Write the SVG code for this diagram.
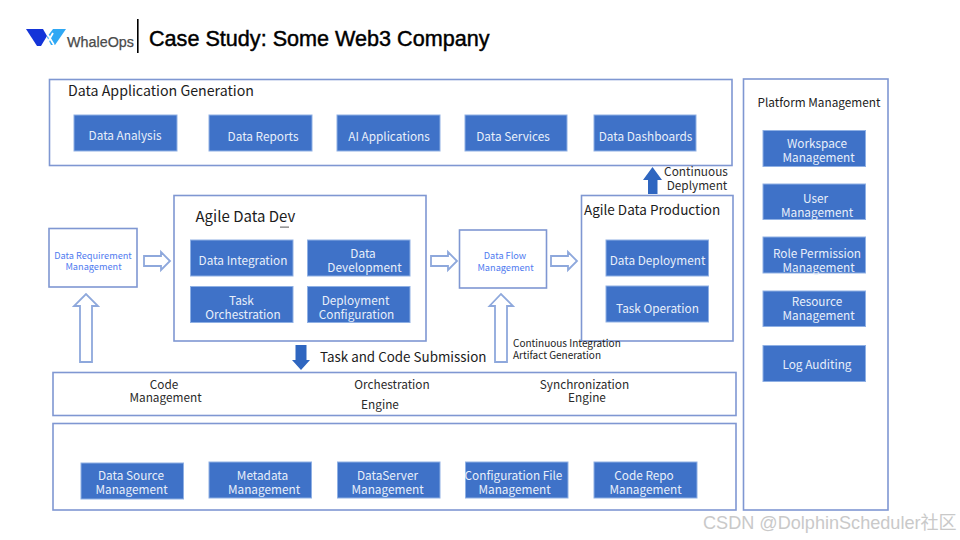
<svg xmlns="http://www.w3.org/2000/svg" width="960" height="540" viewBox="0 0 960 540">
<style>
text{font-family:"Noto Sans CJK SC","Noto Sans",sans-serif;font-size:11.8px;text-anchor:middle}
.panel{fill:#fff;stroke:#7f97d2;stroke-width:1.6}
.box{fill:#3f72c8;stroke:#8fb0e4;stroke-width:1}
.w{fill:#e8effa}
.d{fill:#2a2a2a}
.s{fill:#4f7bf0;font-size:9.2px}
.h{fill:#1c1c1c;text-anchor:start}
.hollow{fill:#fff;stroke:#8ea8dc;stroke-width:1.8;stroke-linejoin:miter}
.solid{fill:#2f66c0}
</style>
<rect width="960" height="540" fill="#fff"/>
<g id="header">
<polygon points="26,29 43,29 47,36 41,46 37,46" fill="#1434d8"/>
<polygon points="47,37 53,29 66,29 55,45 51,45" fill="#2fa8f4"/>
<path d="M48,35L54,45M53,33L46,45" stroke="#fff" stroke-width="1.8" fill="none"/>
<text x="67" y="47" textLength="67" lengthAdjust="spacingAndGlyphs" style="font-family:'Liberation Sans',sans-serif;font-size:15.5px;text-anchor:start;fill:#4a4a4a;stroke:#4a4a4a;stroke-width:.25">WhaleOps</text>
<rect x="137" y="19" width="1.6" height="34" fill="#000"/>
<text x="149" y="46" style="font-family:'Liberation Sans',sans-serif;font-size:21.6px;text-anchor:start;fill:#000;stroke:#000;stroke-width:.45">Case Study: Some Web3 Company</text>
</g>
<g id="connectors">
<path class="hollow" d="M144,256H161V252L170,261L161,270V266H144Z"/>
<path class="hollow" d="M431,256H448V252L457,261L448,270V266H431Z"/>
<path class="hollow" d="M551,256H568V252L577,261L568,270V266H551Z"/>
<path class="hollow" d="M80,362V306H74L86,294L98,306H92V362Z"/>
<path class="hollow" d="M495,362V306H489.5L501,294L513,306H507V362Z"/>
<path class="solid" d="M295.5,345H306.5V360H310L301,370L292,360H295.5Z"/>
<path class="solid" d="M648,194V180H643L652.5,167L662,180H657.5V194Z"/>
</g>
<g id="data-application-generation">
<rect class="panel" x="49.5" y="79.5" width="682.5" height="86"/>
<text class="h" x="68" y="96" style="font-size:14.2px">Data Application Generation</text>
</g>
<g id="data-analysis"><rect class="box" x="74" y="115" width="103" height="36"/><text class="w" x="125" y="140">Data Analysis</text></g>
<g id="data-reports"><rect class="box" x="209" y="115" width="103" height="36"/><text class="w" x="263" y="140.500">Data Reports</text></g>
<g id="ai-applications"><rect class="box" x="337" y="115" width="103" height="36"/><text class="w" x="389" y="140.500">AI Applications</text></g>
<g id="data-services"><rect class="box" x="465" y="115" width="102" height="36"/><text class="w" x="513" y="140.500">Data Services</text></g>
<g id="data-dashboards"><rect class="box" x="594" y="115" width="102" height="36"/><text class="w" x="645.500" y="140.500">Data Dashboards</text></g>
<g id="data-requirement-management">
<rect class="panel" x="49" y="228.5" width="88" height="58.5"/>
<text class="s"><tspan x="93" y="259">Data Requirement</tspan><tspan x="93.500" y="269.500">Management</tspan></text>
</g>
<g id="agile-data-dev">
<rect class="panel" x="174" y="195.500" width="252" height="145.500"/>
<text class="h" x="195.500" y="222" style="font-size:15px">Agile Data Dev</text>
<rect x="280" y="226.600" width="9" height="1" fill="#555"/>
</g>
<g id="data-integration"><rect class="box" x="190.500" y="240" width="102.500" height="36"/><text class="w" x="243" y="265">Data Integration</text></g>
<g id="data-development"><rect class="box" x="307.500" y="240" width="102.500" height="36"/><text class="w"><tspan x="363" y="258">Data</tspan><tspan x="364.500" y="272">Development</tspan></text></g>
<g id="task-orchestration"><rect class="box" x="190.500" y="286.500" width="102.500" height="36"/><text class="w"><tspan x="241.500" y="305">Task</tspan><tspan x="243" y="319">Orchestration</tspan></text></g>
<g id="deployment-configuration"><rect class="box" x="307.500" y="286.500" width="102.500" height="36"/><text class="w"><tspan x="355.500" y="305">Deployment</tspan><tspan x="356.500" y="319">Configuration</tspan></text></g>
<g id="data-flow-management">
<rect class="panel" x="459.500" y="230" width="87" height="58"/>
<text class="s"><tspan x="505" y="259">Data Flow</tspan><tspan x="505.500" y="271">Management</tspan></text>
</g>
<g id="agile-data-production">
<rect class="panel" x="581.500" y="195.500" width="151.500" height="145.500"/>
<text class="h" x="584" y="214.500" style="font-size:13.500px">Agile Data Production</text>
</g>
<g id="data-deployment"><rect class="box" x="606" y="240" width="102.500" height="36"/><text class="w" x="657.500" y="265">Data Deployment</text></g>
<g id="task-operation"><rect class="box" x="606" y="286" width="102.500" height="36"/><text class="w" x="657.500" y="312.500">Task Operation</text></g>
<g id="labels">
<text class="d"><tspan x="696" y="175.500">Continuous</tspan><tspan x="697" y="189.500">Deplyment</tspan></text>
<text class="h" x="320" y="362" style="font-size:13.400px">Task and Code Submission</text>
<text class="h" style="font-size:10px"><tspan x="513" y="347">Continuous Integration</tspan><tspan x="513" y="359">Artifact Generation</tspan></text>
</g>
<g id="engines">
<rect class="panel" x="53" y="372.500" width="683" height="43"/>
<text class="d"><tspan x="164" y="389">Code</tspan><tspan x="165.500" y="402">Management</tspan></text>
<text class="d"><tspan x="392" y="389">Orchestration</tspan><tspan x="380" y="409">Engine</tspan></text>
<text class="d"><tspan x="584.500" y="389">Synchronization</tspan><tspan x="587" y="402">Engine</tspan></text>
</g>
<g id="management-panel"><rect class="panel" x="53" y="423.500" width="683" height="86.500"/></g>
<g id="data-source-management"><rect class="box" x="81" y="463" width="102.500" height="36"/><text class="w"><tspan x="131" y="480">Data Source</tspan><tspan x="131.500" y="494">Management</tspan></text></g>
<g id="metadata-management"><rect class="box" x="209" y="462" width="102.500" height="36"/><text class="w"><tspan x="262.500" y="480">Metadata</tspan><tspan x="264" y="494">Management</tspan></text></g>
<g id="dataserver-management"><rect class="box" x="337.500" y="462" width="102.500" height="36"/><text class="w"><tspan x="387.500" y="480">DataServer</tspan><tspan x="387.500" y="494">Management</tspan></text></g>
<g id="configuration-file-management"><rect class="box" x="465.500" y="462" width="102.500" height="36"/><text class="w"><tspan x="513.500" y="480">Configuration File</tspan><tspan x="514.500" y="494">Management</tspan></text></g>
<g id="code-repo-management"><rect class="box" x="594" y="462" width="103" height="36"/><text class="w"><tspan x="644" y="480">Code Repo</tspan><tspan x="645.500" y="494">Management</tspan></text></g>
<g id="platform-management">
<rect class="panel" x="743.500" y="79" width="144.500" height="431"/>
<text class="h" x="819" y="106.500" style="text-anchor:middle">Platform Management</text>
</g>
<g id="workspace-management"><rect class="box" x="763" y="130.500" width="102.500" height="36"/><text class="w"><tspan x="817" y="147.500">Workspace</tspan><tspan x="818.500" y="161.500">Management</tspan></text></g>
<g id="user-management"><rect class="box" x="763" y="184" width="102.500" height="35.500"/><text class="w"><tspan x="815.500" y="202.500">User</tspan><tspan x="817" y="217">Management</tspan></text></g>
<g id="role-permission-management"><rect class="box" x="763" y="237" width="102.500" height="36"/><text class="w"><tspan x="817" y="257.500">Role Permission</tspan><tspan x="818.500" y="271.500">Management</tspan></text></g>
<g id="resource-management"><rect class="box" x="763" y="291" width="102.500" height="35.500"/><text class="w"><tspan x="817" y="305.500">Resource</tspan><tspan x="818.500" y="319.500">Management</tspan></text></g>
<g id="log-auditing"><rect class="box" x="763" y="345.500" width="102.500" height="36"/><text class="w" x="817" y="369">Log Auditing</text></g>
<text x="703" y="529" style="font-family:'Liberation Sans','Noto Sans CJK SC',sans-serif;font-size:18.100px;text-anchor:start;fill:#c9c9c9">CSDN @DolphinScheduler社区</text>
</svg>
